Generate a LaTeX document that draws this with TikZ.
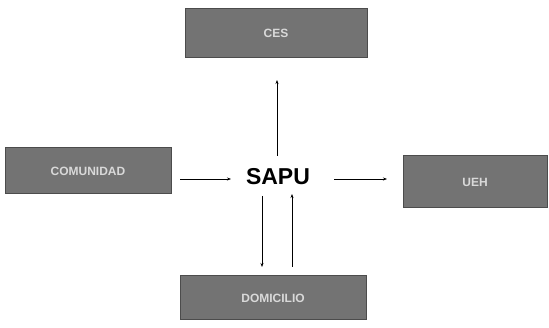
\documentclass[tikz,border=0pt]{standalone}
\usepackage{fontspec}
\setmainfont{Liberation Sans}
\usetikzlibrary{arrows.meta}
\begin{document}
\begin{tikzpicture}[x=1pt,y=-1pt,
  boxnode/.style={draw=black!70, line width=1pt, fill=black!55, text=black!15, font=\bfseries\fontsize{12}{14}\selectfont, inner sep=0pt},
  conn/.style={line width=0.9pt, -{Stealth[length=4pt,width=3pt]}}]
\useasboundingbox (0,0) rectangle (549,328);
\node[boxnode, minimum width=182pt, minimum height=49pt] (top) at (276,33) {CES};
\node[boxnode, minimum width=166pt, minimum height=46pt] (left) at (88,171) {COMUNIDAD};
\node[boxnode, minimum width=144pt, minimum height=52pt] (right) at (475,182) {UEH};
\node[boxnode, minimum width=186pt, minimum height=44pt] (bottom) at (273,298) {DOMICILIO};
\node[font=\bfseries\fontsize{23}{28}\selectfont, inner sep=0pt] (sapu) at (278,177) {SAPU};
\coordinate (upS) at (277,156);
\coordinate (upE) at (277,80);
\draw[conn] (upS) -- (upE);
\coordinate (lS) at (180,179);
\coordinate (lE) at (231,179);
\draw[conn] (lS) -- (lE);
\coordinate (rS) at (334,179);
\coordinate (rE) at (387,179);
\draw[conn] (rS) -- (rE);
\coordinate (dS) at (262,196);
\coordinate (dE) at (262,267);
\draw[conn] (dS) -- (dE);
\coordinate (uS) at (292,267);
\coordinate (uE) at (292,194);
\draw[conn] (uS) -- (uE);
\end{tikzpicture}
\end{document}
